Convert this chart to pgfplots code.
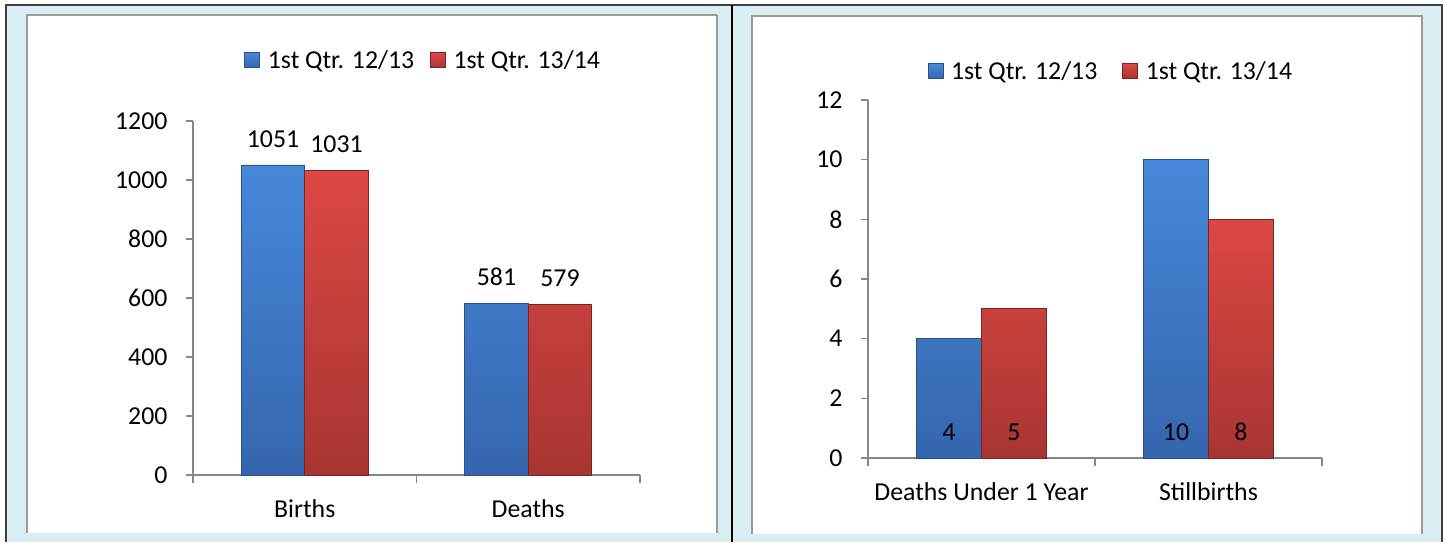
\documentclass[border=0pt]{standalone}
\usepackage{fontspec}
\setmainfont{Carlito}
\usepackage{pgfplots}
\pgfplotsset{compat=1.18}
\definecolor{bgblue}{HTML}{DAEEF3}
\definecolor{framedark}{HTML}{404040}
\definecolor{panelgray}{HTML}{9A9A9A}
\definecolor{axisgray}{HTML}{868686}
\definecolor{blueTop}{HTML}{4788DA}
\definecolor{blueBot}{HTML}{3566AD}
\definecolor{blueEdge}{HTML}{2A5187}
\definecolor{redTop}{HTML}{DC4844}
\definecolor{redBot}{HTML}{A83532}
\definecolor{redEdge}{HTML}{7A2421}
\newcommand{\chartfont}{\fontsize{25.8}{30}\selectfont}
\pgfplotsset{
  chartstyle/.style={
    scale only axis,
    xmin=0, xmax=2, ymin=0,
    axis x line*=bottom, axis y line*=left,
    axis line style={draw=axisgray, line width=1.5pt},
    xtick={0.5,1.5},
    minor xtick={0,1,2},
    tick style={draw=axisgray, line width=1.5pt},
    major x tick style={draw=none},
    tick align=outside,
    major tick length=7pt, minor tick length=8pt,
    ticklabel style={font=\chartfont, text=black},
    /pgf/number format/assume math mode=true,
    /pgf/number format/1000 sep={},
    yticklabel style={xshift=-15pt},
    xticklabel style={yshift=-14pt},
    legend style={draw=none, fill=none, font=\chartfont, anchor=center},
    legend columns=2,
    legend cell align=left,
  },
  bluebar/.style={ybar, bar width=#1, bar shift=-0.5*#1, top color=blueTop, bottom color=blueBot, draw=blueEdge, line width=0.8pt,
    legend image code/.code={\path[draw=none] (0pt,0pt) -- (21pt,0pt); \fill[top color=blueTop,bottom color=blueBot,draw=blueEdge] (0pt,-7.5pt) rectangle (15pt,7.5pt);}},
  redbar/.style={ybar, bar width=#1, bar shift=0.5*#1, top color=redTop, bottom color=redBot, draw=redEdge, line width=0.8pt,
    legend image code/.code={\path[draw=none] (0pt,0pt) -- (21pt,0pt); \fill[top color=redTop,bottom color=redBot,draw=redEdge] (0pt,-7.5pt) rectangle (15pt,7.5pt);}},
}
\begin{document}
\begin{tikzpicture}
\useasboundingbox (0pt,0pt) rectangle (1445pt,542pt);
\fill[white] (0pt,0pt) rectangle (1445pt,542pt);
\fill[bgblue] (6pt,0pt) rectangle (1442pt,537pt);
\draw[framedark, line width=1.5pt] (6pt,0pt) -- (6pt,537pt) -- (1442pt,537pt) -- (1442pt,0pt);
\draw[black, line width=1.5pt] (732pt,0pt) -- (732pt,537pt);
\fill[white] (27pt,9pt) rectangle (717pt,527pt);
\draw[panelgray, line width=1.2pt] (27pt,9pt) -- (27pt,527pt) -- (717pt,527pt);
\draw[panelgray, line width=2pt] (717pt,527pt) -- (717pt,9pt);
\fill[white] (752pt,8pt) rectangle (1422pt,526pt);
\draw[panelgray, line width=1.2pt] (752pt,8pt) -- (752pt,526pt) -- (1422pt,526pt) -- (1422pt,8pt);

\begin{axis}[chartstyle,
  at={(193pt,67pt)}, anchor=south west,
  width=447pt, height=354pt,
  ymax=1200, ytick={0,200,...,1200},
  xticklabels={Births,Deaths},
  legend style={at={(0.515,1.172)}, /tikz/every even column/.append style={column sep=14pt}},
  nodes near coords, point meta=explicit symbolic,
]
\addplot[bluebar=63.5pt, every node near coord/.append style={font=\chartfont, text=black, yshift=14pt, xshift=-31.75pt}] coordinates {(0.5,1051) [1051] (1.5,581) [581]};
\addplot[redbar=63.5pt, every node near coord/.append style={font=\chartfont, text=black, yshift=14pt, xshift=31.75pt}] coordinates {(0.5,1031) [1031] (1.5,579) [579]};
\legend{1st Qtr. 12/13, 1st Qtr. 13/14}
\end{axis}

\begin{axis}[chartstyle,
  at={(868pt,84pt)}, anchor=south west,
  width=454pt, height=358pt,
  ymax=12, ytick={0,2,...,12},
  xticklabels={Deaths Under 1 Year,Stillbirths},
  legend style={at={(0.535,1.080)}, /tikz/every even column/.append style={column sep=23pt}},
]
\addplot[bluebar=65pt] coordinates {(0.5,4) (1.5,10)};
\addplot[redbar=65pt] coordinates {(0.5,5) (1.5,8)};
\addplot[ybar, bar width=65pt, bar shift=-32.5pt, draw=none, fill=none, forget plot,
  nodes near coords, point meta=explicit symbolic,
  every node near coord/.append style={font=\chartfont, text=black, yshift=14pt, xshift=-32.5pt}]
  coordinates {(0.5,0) [4] (1.5,0) [10]};
\addplot[ybar, bar width=65pt, bar shift=32.5pt, draw=none, fill=none, forget plot,
  nodes near coords, point meta=explicit symbolic,
  every node near coord/.append style={font=\chartfont, text=black, yshift=14pt, xshift=32.5pt}]
  coordinates {(0.5,0) [5] (1.5,0) [8]};
\legend{1st Qtr. 12/13, 1st Qtr. 13/14}
\end{axis}
\end{tikzpicture}
\end{document}
